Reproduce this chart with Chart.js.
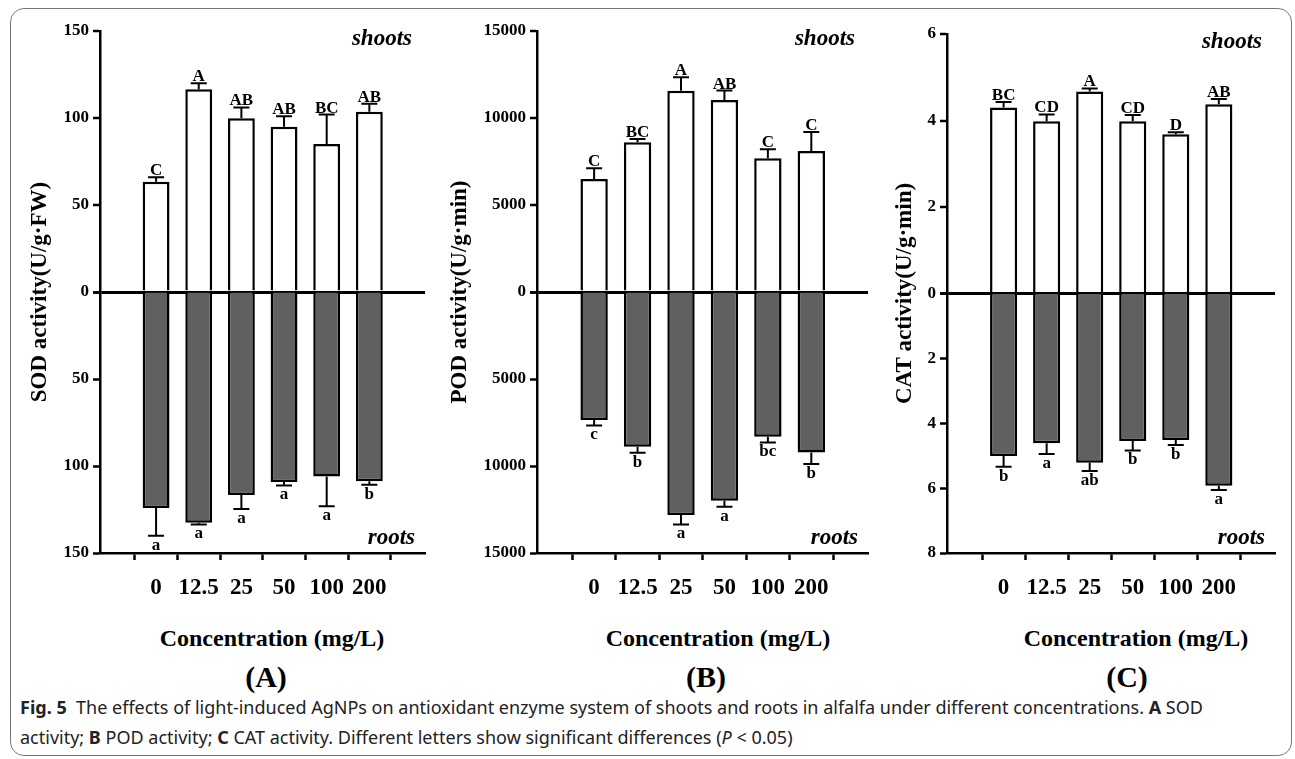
<!DOCTYPE html>
<html>
<head>
<meta charset="utf-8">
<script src="https://cdn.jsdelivr.net/npm/chart.js@4.4.1/dist/chart.umd.min.js"></script>
<style>
  body { margin: 0; background: #fff; width: 1295px; height: 759px; position: relative; overflow: hidden; }
  .frame { position: absolute; left: 10px; top: 8px; width: 1280px; height: 746px; border: 1.5px solid #777; border-radius: 14px; }
  canvas { position: absolute; top: 0; }
  .lbl { position: absolute; font-family: "Liberation Serif", serif; font-weight: bold; color: #000; transform: translate(-50%, -50%); white-space: nowrap; }
  .xt { font-size: 24px; top: 638px; }
  .pn { font-size: 30px; top: 677px; }
  .caption { position: absolute; left: 20px; top: 692px; font-family: "Noto Sans", sans-serif; font-size: 18px; line-height: 30px; color: #222; white-space: nowrap; }
</style>
</head>
<body>
<div class="frame"></div>
<canvas id="chartA" width="440" height="615" style="left:0px"></canvas>
<canvas id="chartB" width="430" height="615" style="left:440px"></canvas>
<canvas id="chartC" width="425" height="615" style="left:870px"></canvas>

<div class="lbl xt" style="left:272px">Concentration (mg/L)</div>
<div class="lbl xt" style="left:718px">Concentration (mg/L)</div>
<div class="lbl xt" style="left:1136px">Concentration (mg/L)</div>
<div class="lbl pn" style="left:266px">(A)</div>
<div class="lbl pn" style="left:706px">(B)</div>
<div class="lbl pn" style="left:1127px">(C)</div>

<div class="caption"><b>Fig. 5</b>&nbsp; The effects of light-induced AgNPs on antioxidant enzyme system of shoots and roots in alfalfa under different concentrations. <b>A</b> SOD<br>activity; <b>B</b> POD activity; <b>C</b> CAT activity. Different letters show significant differences (<i>P</i> &lt; 0.05)</div>

<script>
const concentrations = ['0', '12.5', '25', '50', '100', '200'];

// SOD (U/g·FW)
const sodShoots = [63.4, 116.5, 99.8, 95, 85, 103.6];
const sodShootsErr = [2.5, 3.5, 6.3, 6, 17, 4.6];
const sodShootsLetters = ['C', 'A', 'AB', 'AB', 'BC', 'AB'];
const sodRoots = [124.1, 132.6, 116.7, 109.2, 106.1, 108.8];
const sodRootsErr = [16, 1, 8, 2, 17, 2];
const sodRootsLetters = ['a', 'a', 'a', 'a', 'a', 'b'];

// POD (U/g·min)
const podShoots = [6500, 8610, 11560, 11040, 7690, 8110];
const podShootsErr = [610, 190, 780, 535, 510, 1090];
const podShootsLetters = ['C', 'BC', 'A', 'AB', 'C', 'C'];
const podRoots = [7360, 8895, 12820, 12000, 8320, 9220];
const podRootsErr = [310, 345, 540, 345, 325, 670];
const podRootsLetters = ['c', 'b', 'a', 'a', 'bc', 'b'];

// CAT (U/g·min)
const catShoots = [4.30, 3.98, 4.67, 3.98, 3.68, 4.375];
const catShootsErr = [0.13, 0.16, 0.07, 0.15, 0.05, 0.12];
const catShootsLetters = ['BC', 'CD', 'A', 'CD', 'D', 'AB'];
const catRoots = [5.01, 4.62, 5.22, 4.55, 4.52, 5.93];
const catRootsErr = [0.33, 0.33, 0.25, 0.29, 0.15, 0.13];
const catRootsLetters = ['b', 'a', 'ab', 'b', 'b', 'a'];

// axis ranges: [shoots max, roots max, step]
const sodAxis = [150, 150, 50];
const podAxis = [15000, 15000, 5000];
const catAxis = [6, 8, 2];

Chart.defaults.font.family = '"Liberation Serif", "Times New Roman", serif';
Chart.defaults.font.weight = 'bold';
Chart.defaults.color = '#000';

// error bars, letters, shoots/roots tags and y title
const extrasPlugin = {
    id: 'extras',
    afterDatasetsDraw(chart) {
        const ctx = chart.ctx;
        const area = chart.chartArea;
        const ex = chart.options.plugins.extras;
        ctx.save();
        chart.data.datasets.forEach((ds, di) => {
            const meta = chart.getDatasetMeta(di);
            const scale = chart.scales[ds.yAxisID];
            meta.data.forEach((bar, i) => {
                const v = ds.data[i].y;
                const sign = v >= 0 ? 1 : -1;
                const y0 = bar.y;
                const y1 = scale.getPixelForValue(v + sign * ds.err[i]);
                ctx.strokeStyle = '#000';
                ctx.lineWidth = 2;
                ctx.beginPath();
                ctx.moveTo(bar.x, y0);
                ctx.lineTo(bar.x, y1);
                ctx.moveTo(bar.x - 8, y1);
                ctx.lineTo(bar.x + 8, y1);
                ctx.stroke();
                ctx.fillStyle = '#000';
                ctx.font = 'bold 17px "Liberation Serif", serif';
                ctx.textAlign = 'center';
                if (sign > 0) {
                    ctx.textBaseline = 'alphabetic';
                    ctx.fillText(ds.letters[i], bar.x, y1 - 2);
                } else {
                    ctx.textBaseline = 'top';
                    ctx.fillText(ds.letters[i], bar.x, y1 + 1);
                }
            });
        });
        ctx.font = 'italic bold 23px "Liberation Serif", serif';
        ctx.textAlign = 'right';
        ctx.textBaseline = 'middle';
        ctx.fillText('shoots', area.right - 13, area.top + 8);
        ctx.fillText('roots', area.right - 10, area.bottom - 15);

        ctx.translate(ex.titleX, (area.top + area.bottom) / 2);
        ctx.rotate(-Math.PI / 2);
        ctx.font = 'bold 23px "Liberation Serif", serif';
        ctx.textAlign = 'center';
        ctx.fillText(ex.title, 0, 0);
        ctx.restore();
    }
};

function makePanel(id, title, titleX, axisW, padR, padTop, axis, shoots, shootsErr, shootsLetters, roots, rootsErr, rootsLetters) {
    const tickFmt = v => String(Math.abs(v));
    const yBase = {
        type: 'linear',
        position: 'left',
        stack: 'v',
        stackWeight: 1,
        border: { color: '#000', width: 2.5 },
        afterFit: s => { s.width = axisW; }
    };
    return new Chart(document.getElementById(id), {
        type: 'bar',
        data: {
            datasets: [
                {
                    label: 'shoots',
                    data: shoots.map((v, i) => ({ x: i, y: v })),
                    err: shootsErr,
                    letters: shootsLetters,
                    yAxisID: 'yTop',
                    backgroundColor: '#fff',
                    borderColor: '#000',
                    borderWidth: 2.5,
                    grouped: false,
                    categoryPercentage: 1,
                    barPercentage: 0.63
                },
                {
                    label: 'roots',
                    data: roots.map((v, i) => ({ x: i, y: -v })),
                    err: rootsErr,
                    letters: rootsLetters,
                    yAxisID: 'yBot',
                    backgroundColor: '#606060',
                    borderColor: '#000',
                    borderWidth: 2.5,
                    grouped: false,
                    categoryPercentage: 1,
                    barPercentage: 0.63
                }
            ]
        },
        options: {
            responsive: false,
            animation: false,
            layout: { padding: { left: 0, right: padR, top: padTop, bottom: 17 } },
            plugins: {
                legend: { display: false },
                tooltip: { enabled: false },
                extras: { title: title, titleX: titleX }
            },
            scales: {
                x: {
                    type: 'linear',
                    min: -0.68,
                    max: 5.67,
                    afterBuildTicks: s => { s.ticks = concentrations.map((c, i) => ({ value: i })); },
                    ticks: {
                        callback: v => concentrations[v],
                        font: { size: 23 },
                        padding: 14,
                        maxRotation: 0,
                        autoSkip: false
                    },
                    grid: { drawOnChartArea: false, tickLength: 7, tickColor: '#000', tickWidth: 2.5 },
                    border: { color: '#000', width: 2.5 },
                    afterFit: s => { s.height = 45; }
                },
                // roots axis listed first: the layout stacks it below the shoots axis
                yBot: Object.assign({}, yBase, {
                    min: -axis[1],
                    max: 0,
                    ticks: { font: { size: 17 }, padding: 4, stepSize: axis[2], callback: v => (v === 0 ? '' : tickFmt(v)) },
                    grid: { drawOnChartArea: false, tickLength: 7, tickColor: '#000', tickWidth: 2.5 }
                }),
                yTop: Object.assign({}, yBase, {
                    min: 0,
                    max: axis[0],
                    ticks: { font: { size: 17 }, padding: 4, stepSize: axis[2], callback: tickFmt },
                    grid: {
                        tickLength: 7,
                        tickColor: '#000',
                        tickWidth: 2.5,
                        color: c => (c.tick && c.tick.value === 0 ? '#000' : 'rgba(0,0,0,0)'),
                        lineWidth: c => (c.tick && c.tick.value === 0 ? 3 : 0)
                    }
                })
            }
        },
        plugins: [extrasPlugin]
    });
}

makePanel('chartA', 'SOD activity(U/g·FW)', 40, 100, 15, 31, sodAxis,
    sodShoots, sodShootsErr, sodShootsLetters, sodRoots, sodRootsErr, sodRootsLetters);
makePanel('chartB', 'POD activity(U/g·min)', 20, 97, 2, 31, podAxis,
    podShoots, podShootsErr, podShootsLetters, podRoots, podRootsErr, podRootsLetters);
makePanel('chartC', 'CAT activity(U/g·min)', 35, 77, 20, 34, catAxis,
    catShoots, catShootsErr, catShootsLetters, catRoots, catRootsErr, catRootsLetters);
</script>
</body>
</html>
